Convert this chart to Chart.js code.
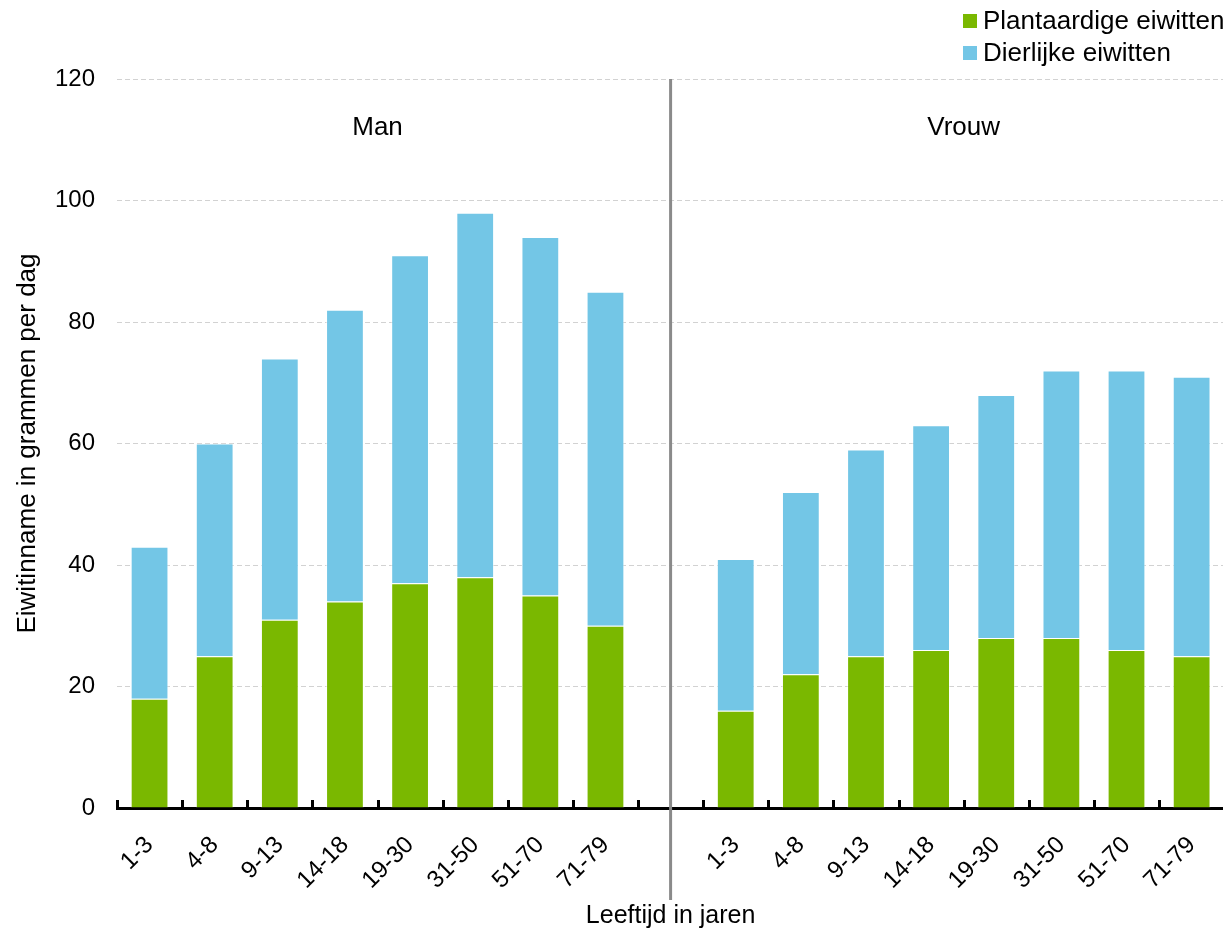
<!DOCTYPE html>
<html>
<head>
<meta charset="utf-8">
<script src="https://cdn.jsdelivr.net/npm/chart.js@4.4.1/dist/chart.umd.min.js"></script>
<style>
    html, body { margin: 0; background: #fff; overflow: hidden; font-family: "Liberation Sans", Arial, sans-serif; }
    #wrap { position: relative; width: 1227px; height: 933px; }
    #legend { position: absolute; left: 963px; top: 4px; font-size: 26px; color: #000; line-height: 32px; white-space: nowrap; }
    #legend .sw { display: inline-block; width: 14px; height: 14px; margin-right: 6px; vertical-align: 1px; }
</style>
</head>
<body>
<div id="wrap">
    <canvas id="eiwitChart"></canvas>
    <div id="legend"></div>
</div>
<script>
const ageGroups = ['1-3', '4-8', '9-13', '14-18', '19-30', '31-50', '51-70', '71-79'];
const sexes = ['Man', 'Vrouw'];

// plantaardig + dierlijk = totaal (g per dag)
const manPlant = [18, 25, 31, 34, 37, 38, 35, 30];
const manAnimal = [25, 35, 43, 48, 54, 60, 59, 55];
const vrouwPlant = [16, 22, 25, 26, 28, 28, 26, 25];
const vrouwAnimal = [25, 30, 34, 37, 40, 44, 46, 46];

const yTicks = [0, 20, 40, 60, 80, 100, 120];

const greenColor = '#7ab800';
const blueColor = '#73c6e6';

// one empty category between the two groups
const labels = [...ageGroups, '', ...ageGroups];
const plantData = [...manPlant, null, ...vrouwPlant];
const animalData = [...manAnimal, null, ...vrouwAnimal];

const groupPlugin = {
    id: 'groupPlugin',
    afterDraw(chart) {
        const ctx = chart.ctx;
        const x = chart.scales.x;
        const y = chart.scales.y;
        const area = chart.chartArea;
        const half = (x.getPixelForValue(1) - x.getPixelForValue(0)) / 2;

        // small tick marks above the axis line
        ctx.save();
        ctx.strokeStyle = '#000';
        ctx.lineWidth = 3;
        for (let i = 0; i <= labels.length; i++) {
            const px = Math.round(x.getPixelForValue(i) - half) + 0.5;
            ctx.beginPath();
            ctx.moveTo(px, area.bottom);
            ctx.lineTo(px, area.bottom - 8);
            ctx.stroke();
        }

        // divider between Man and Vrouw
        const gapX = x.getPixelForValue(ageGroups.length);
        ctx.strokeStyle = '#8a8a8a';
        ctx.lineWidth = 3;
        ctx.beginPath();
        ctx.moveTo(gapX, area.top);
        ctx.lineTo(gapX, area.bottom + 92);
        ctx.stroke();

        // group names
        ctx.fillStyle = '#000';
        ctx.font = '26px "Liberation Sans", Arial, sans-serif';
        ctx.textAlign = 'center';
        ctx.textBaseline = 'middle';
        const n = ageGroups.length;
        const manX = (x.getPixelForValue(0) + x.getPixelForValue(n - 1)) / 2;
        const vrouwX = (x.getPixelForValue(n + 1) + x.getPixelForValue(2 * n)) / 2;
        ctx.fillText(sexes[0], manX, y.getPixelForValue(112));
        ctx.fillText(sexes[1], vrouwX, y.getPixelForValue(112));
        ctx.restore();
    }
};

const chart = new Chart(document.getElementById('eiwitChart'), {
    type: 'bar',
    data: {
        labels: labels,
        datasets: [{
            label: 'Plantaardige eiwitten',
            data: plantData,
            backgroundColor: greenColor,
            borderColor: 'rgba(255,255,255,0.5)',
            borderWidth: 1,
            barPercentage: 0.58,
            categoryPercentage: 1
        }, {
            label: 'Dierlijke eiwitten',
            data: animalData,
            backgroundColor: blueColor,
            borderColor: 'rgba(255,255,255,0.5)',
            borderWidth: 1,
            barPercentage: 0.58,
            categoryPercentage: 1
        }]
    },
    options: {
        responsive: true,
        maintainAspectRatio: false,
        animation: false,
        layout: {
            padding: { top: 79, right: 0, left: 0, bottom: 0 }
        },
        plugins: {
            legend: { display: false },
            tooltip: { enabled: false }
        },
        scales: {
            x: {
                stacked: true,
                grid: { display: false },
                border: { display: true, color: '#000', width: 3 },
                ticks: {
                    color: '#000',
                    font: { size: 24, family: '"Liberation Sans", Arial, sans-serif' },
                    minRotation: 45,
                    maxRotation: 45,
                    padding: 15,
                    autoSkip: false
                },
                title: {
                    display: true,
                    text: 'Leeftijd in jaren',
                    color: '#000',
                    font: { size: 25, family: '"Liberation Sans", Arial, sans-serif' },
                    padding: { top: 0, bottom: 2 }
                },
                afterFit(scale) { scale.height = 125; }
            },
            y: {
                stacked: true,
                min: 0,
                max: 120,
                afterBuildTicks(scale) { scale.ticks = yTicks.map(v => ({ value: v })); },
                grid: { color: '#d2d2d2', lineWidth: 1, drawTicks: false },
                border: { display: false, dash: [5, 3] },
                ticks: {
                    color: '#000',
                    font: { size: 24, family: '"Liberation Sans", Arial, sans-serif' },
                    padding: 22
                },
                title: {
                    display: true,
                    text: 'Eiwitinname in grammen per dag',
                    color: '#000',
                    font: { size: 26, family: '"Liberation Sans", Arial, sans-serif' },
                    padding: { top: 12, bottom: 0 }
                },
                afterFit(scale) { scale.width = 117; }
            }
        }
    },
    plugins: [groupPlugin]
});

// legend as html, stacked on the right
const legendEl = document.getElementById('legend');
chart.data.datasets.forEach(ds => {
    const row = document.createElement('div');
    row.innerHTML = '<span class="sw" style="background:' + ds.backgroundColor + '"></span>' + ds.label;
    legendEl.appendChild(row);
});
</script>
</body>
</html>
